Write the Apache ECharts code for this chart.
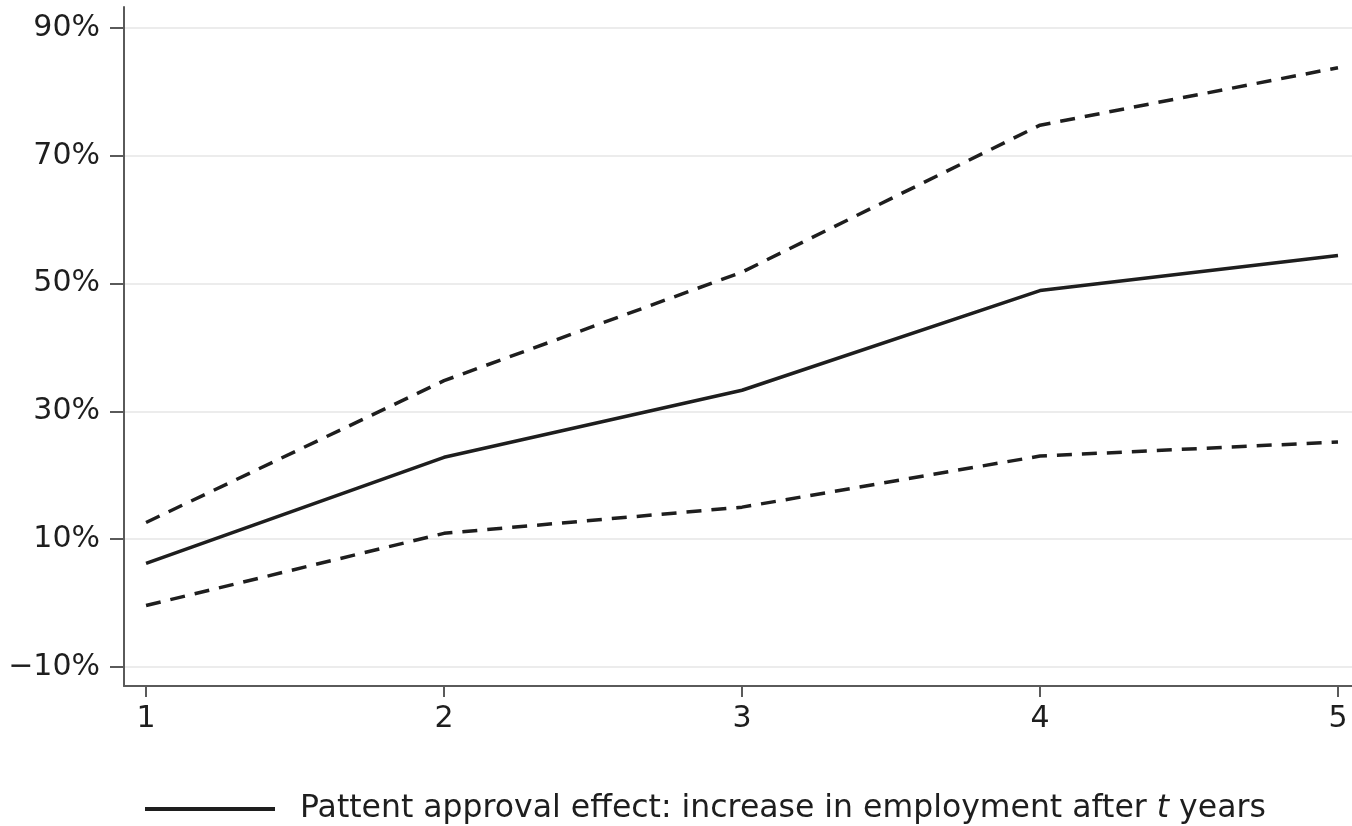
<!DOCTYPE html>
<html>
<head>
<meta charset="utf-8">
<script src="https://cdn.jsdelivr.net/npm/echarts@6/dist/echarts.min.js"></script>
<style>
  html, body { margin: 0; padding: 0; background: #ffffff; }
  #chart { width: 1352px; height: 826px; }
</style>
</head>
<body>
<div id="chart"></div>
<script>
// Years after approval
const years = [1, 2, 3, 4, 5];
// Point estimate of the employment effect (%)
const effect = [6.2, 22.8, 33.3, 48.9, 54.4];
// Confidence band bounds (%)
const upper = [12.6, 34.8, 51.8, 74.8, 83.8];
const lower = [-0.4, 10.9, 15.0, 23.0, 25.2];
// Axis tick values
const yTicks = [-10, 10, 30, 50, 70, 90];
const xTicks = [1, 2, 3, 4, 5];

const pairs = (vals) => years.map((x, i) => [x, vals[i]]);

const font = '"DejaVu Sans", "Liberation Sans", Arial, sans-serif';
const axisGrey = '#5a5a5a';
const ink = '#1e1e1e';
const fs = 30;
const legendFs = 31.5;

const chart = echarts.init(document.getElementById('chart'), null, { renderer: 'canvas' });

chart.setOption({
  backgroundColor: '#ffffff',
  animation: false,
  grid: { left: 124, right: 0, top: 7, bottom: 140, containLabel: false },
  xAxis: {
    type: 'value',
    min: 0.926,
    max: 5.047,
    axisLine: { show: true, onZero: false, lineStyle: { color: axisGrey, width: 2 } },
    axisTick: { show: true, customValues: xTicks, length: 11, lineStyle: { color: axisGrey, width: 2 } },
    axisLabel: { customValues: xTicks, margin: 18, fontSize: fs, fontFamily: font, color: ink },
    splitLine: { show: false }
  },
  yAxis: {
    type: 'value',
    min: -13,
    max: 93.3,
    axisLine: { show: true, onZero: false, lineStyle: { color: axisGrey, width: 2 } },
    axisTick: { show: true, customValues: yTicks, length: 14, lineStyle: { color: axisGrey, width: 2 } },
    axisLabel: {
      customValues: yTicks, margin: 24, fontSize: fs, fontFamily: font, color: ink,
      formatter: (v) => (v < 0 ? '\u2212' + Math.abs(v) : v) + '%'
    },
    splitLine: { show: true, lineStyle: { color: '#ececec', width: 2 } }
  },
  legend: {
    show: true,
    data: ['effect'],
    left: 138,
    top: 788,
    itemWidth: 130,
    itemHeight: 14,
    itemGap: 10,
    itemStyle: { opacity: 0 },
    lineStyle: { color: ink, width: 4 },
    textStyle: {
      fontFamily: font,
      fontSize: legendFs,
      color: ink,
      padding: [0, 0, 0, 20],
      rich: {
        a: { fontFamily: font, fontSize: legendFs, color: ink },
        i: { fontFamily: font, fontSize: legendFs, color: ink, fontStyle: 'italic' }
      }
    },
    formatter: () => '{a|Pattent approval effect: increase in employment after }{i|t}{a| years}'
  },
  series: [
    {
      name: 'effect',
      type: 'line',
      data: pairs(effect),
      symbol: 'none',
      lineStyle: { color: ink, width: 3.5, type: 'solid' },
      itemStyle: { color: ink },
      z: 3
    },
    {
      name: 'upper',
      type: 'line',
      data: pairs(upper),
      symbol: 'none',
      lineStyle: { color: ink, width: 3.5, type: [15, 10] },
      z: 2
    },
    {
      name: 'lower',
      type: 'line',
      data: pairs(lower),
      symbol: 'none',
      lineStyle: { color: ink, width: 3.5, type: [15, 10] },
      z: 2
    }
  ]
});
</script>
</body>
</html>
